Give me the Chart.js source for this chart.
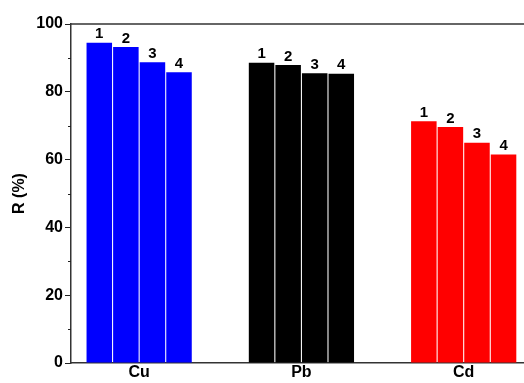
<!DOCTYPE html>
<html>
<head>
<meta charset="utf-8">
<script src="https://cdn.jsdelivr.net/npm/chart.js@4/dist/chart.umd.min.js"></script>
<style>
  html, body { margin: 0; padding: 0; background: #fff; overflow: hidden; width: 524px; height: 383px; }
  #wrap { position: absolute; left: 0; top: 0; width: 524px; height: 383px; overflow: hidden; }
  #chart { display: block; width: 600px; height: 383px; }
</style>
</head>
<body>
<div id="wrap"><canvas id="chart" width="600" height="383"></canvas></div>
<script>
// Metals (groups) and the four runs
const metals = ["Cu", "Pb", "Cd"];
const metalPos = [1, 2, 3];
const metalColors = ["#0000ff", "#000000", "#ff0000"];
const runLabels = ["1", "2", "3", "4"];

// R (%) per run, in order Cu, Pb, Cd
const run1 = [94.5, 88.6, 71.3];
const run2 = [93.2, 87.9, 69.6];
const run3 = [88.7, 85.5, 65.0];
const run4 = [85.8, 85.3, 61.5];
const runs = [run1, run2, run3, run4];

const yTicks = [0, 20, 40, 60, 80, 100];
const yMinorTicks = [10, 30, 50, 70, 90];

const boldFont = { family: "'Liberation Sans', Arial, sans-serif", size: 16, weight: "bold" };

// Top frame line, minor ticks on the y axis, run numbers above the bars
const extras = {
  id: "extras",
  afterDraw(chart) {
    const ctx = chart.ctx;
    const area = chart.chartArea;
    const y = chart.scales.y;
    ctx.save();
    ctx.strokeStyle = "#333";
    ctx.lineWidth = 1.5;
    ctx.beginPath();
    ctx.moveTo(area.left, area.top);
    ctx.lineTo(area.right, area.top);
    ctx.stroke();

    ctx.lineWidth = 1;
    ctx.strokeStyle = "#222";
    yMinorTicks.forEach(v => {
      const py = Math.round(y.getPixelForValue(v)) + 0.5;
      ctx.beginPath();
      ctx.moveTo(area.left - 3, py);
      ctx.lineTo(area.left, py);
      ctx.stroke();
    });

    ctx.fillStyle = "#000";
    ctx.font = "bold 15px 'Liberation Sans', Arial, sans-serif";
    ctx.textAlign = "center";
    ctx.textBaseline = "bottom";
    chart.data.datasets.forEach((ds, i) => {
      chart.getDatasetMeta(i).data.forEach(bar => {
        ctx.fillText(ds.label, bar.x, bar.y - 1);
      });
    });
    ctx.restore();
  }
};

new Chart(document.getElementById("chart"), {
  type: "bar",
  data: {
    datasets: runs.map((vals, i) => ({
      label: runLabels[i],
      data: vals.map((v, j) => ({ x: metalPos[j], y: v })),
      backgroundColor: metalColors,
      borderWidth: 0,
      categoryPercentage: 0.655,
      barPercentage: 0.96
    }))
  },
  options: {
    responsive: false,
    animation: false,
    layout: { padding: { top: 24, right: 0, left: 0, bottom: 0 } },
    plugins: { legend: { display: false }, tooltip: { enabled: false } },
    scales: {
      x: {
        type: "linear",
        offset: false,
        min: 0.58,
        max: 3.84,
        afterBuildTicks: scale => { scale.ticks = metalPos.map(v => ({ value: v })); },
        afterFit: scale => { scale.height = 20; },
        ticks: {
          color: "#000",
          font: boldFont,
          padding: 0,
          callback: v => metals[v - 1]
        },
        grid: { display: false, drawTicks: false, offset: false },
        border: { display: true, color: "#333", width: 1.5 }
      },
      y: {
        min: 0,
        max: 100,
        afterBuildTicks: scale => { scale.ticks = yTicks.map(v => ({ value: v })); },
        afterFit: scale => { scale.width = 71; },
        ticks: { color: "#000", font: boldFont, padding: 2 },
        grid: { drawOnChartArea: false, tickLength: 6, color: "#222", lineWidth: 1 },
        border: { display: true, color: "#333", width: 1.5 },
        title: {
          display: true,
          text: "R (%)",
          color: "#000",
          font: boldFont,
          padding: { top: 10, bottom: 0 }
        }
      }
    }
  },
  plugins: [extras]
});
</script>
</body>
</html>
